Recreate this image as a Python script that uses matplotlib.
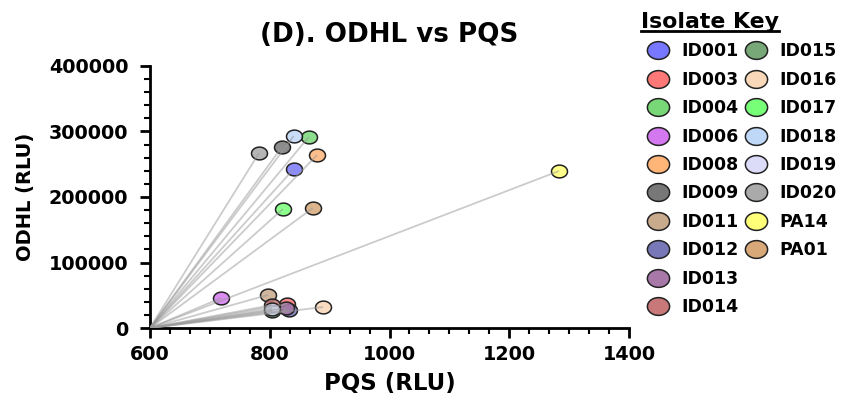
import matplotlib
matplotlib.use("Agg")
import matplotlib.pyplot as plt
from matplotlib.ticker import AutoMinorLocator, MultipleLocator
from matplotlib.lines import Line2D
from matplotlib.path import Path
from matplotlib.colors import to_rgba
import numpy as np

plt.rcParams['font.family'] = ['DejaVu Sans']
plt.rcParams['font.weight'] = 'bold'

isolates = ["ID001", "ID003", "ID004", "ID006", "ID008", "ID009", "ID011", "ID012",
            "ID013", "ID014", "ID015", "ID016", "ID017", "ID018", "ID019", "ID020",
            "PA14", "PA01"]
pqs = [840, 829, 865, 719, 879, 820, 797, 832,
       827, 804, 804, 889, 822, 840, 804, 782,
       1283, 872]
odhl = [242700, 36600, 291600, 45800, 264100, 276000, 50400, 27500,
        30500, 35100, 26000, 32000, 181700, 293100, 29500, 267000,
        239700, 183200]
colors = ["#7878FF", "#FF7878", "#78D878", "#D478F0", "#FFB478", "#787878",
          "#C8AA8C", "#7878B8", "#A878A8", "#C87878", "#78A878", "#F8D8B8",
          "#78FF78", "#C0D8F8", "#DCDCF8", "#AAAAAA", "#FFFF78", "#D8A878"]
origin_x, origin_y = 600, 0

# ellipse marker
t = np.linspace(0, 2 * np.pi, 60)
ell = Path(np.column_stack([1.25 * np.cos(t), np.sin(t)]), closed=True)

fig = plt.figure(figsize=(8.41, 4.0), dpi=100)
ax = fig.add_axes([150 / 841, 72 / 400, 479 / 841, 262 / 400])

handles = []
for name, x, y, c in zip(isolates, pqs, odhl, colors):
    ax.plot([x], [y], marker=ell, ms=11.5, mfc=to_rgba(c, 0.85), mec="#222222",
            mew=1.1, ls="none", zorder=3)
    handles.append(Line2D([], [], marker=ell, ms=16, mfc=c, mec="#222222",
                          mew=1.1, ls="none", label=name))

for x, y in zip(pqs, odhl):
    ax.plot([origin_x, x], [origin_y, y], color="#999999", lw=1.3, alpha=0.5,
            zorder=4, solid_capstyle="butt")

ax.set_xlim(600, 1400)
ax.set_ylim(0, 400000)
ax.xaxis.set_major_locator(MultipleLocator(200))
ax.xaxis.set_minor_locator(AutoMinorLocator(6))
ax.yaxis.set_major_locator(MultipleLocator(100000))
ax.yaxis.set_minor_locator(AutoMinorLocator(5))
for s in ["top", "right"]:
    ax.spines[s].set_visible(False)
for s in ["left", "bottom"]:
    ax.spines[s].set_linewidth(2)
ax.tick_params(which="major", length=7.5, width=2, labelsize=13.8)
ax.tick_params(which="minor", length=4.5, width=1.5)
ax.tick_params(axis="y", which="major", pad=8)
ax.tick_params(axis="x", which="major", pad=4.5)
for lab in ax.get_xticklabels() + ax.get_yticklabels():
    lab.set_fontweight("bold")

ax.set_title("(D). ODHL vs PQS", fontsize=18.8, fontweight="bold", pad=17.5)
ax.set_xlabel("PQS (RLU)", fontsize=16.5, fontweight="bold", labelpad=6)
ax.set_ylabel("ODHL (RLU)", fontsize=14, fontweight="bold", labelpad=10)

# pad with two blanks so first column holds 10 entries
blank = Line2D([], [], ls="none", marker=None, label=" ")
leg_handles = handles + [blank, blank]
leg = fig.legend(handles=leg_handles, ncol=2, loc="upper left",
                 bbox_to_anchor=(641 / 841, 0.97), frameon=False,
                 title="Isolate Key", title_fontproperties={"weight": "bold", "size": 15.8},
                 prop={"weight": "bold", "size": 12.5},
                 handletextpad=0.4, columnspacing=0.1, labelspacing=0.6,
                 handlelength=1.95, borderaxespad=0, borderpad=0,
                 alignment="left")
leg._legend_handle_box.sep = 0
fig.canvas.draw()
tb = leg.get_title().get_window_extent()
inv = fig.transFigure.inverted()
(x0, y0), (x1, y1) = inv.transform([[tb.x0, tb.y0], [tb.x1, tb.y1]])
fig.add_artist(Line2D([x0, x1], [y0 + 0.002, y0 + 0.002], color="black", lw=2,
                      transform=fig.transFigure))

fig.savefig("out.png", dpi=100)
